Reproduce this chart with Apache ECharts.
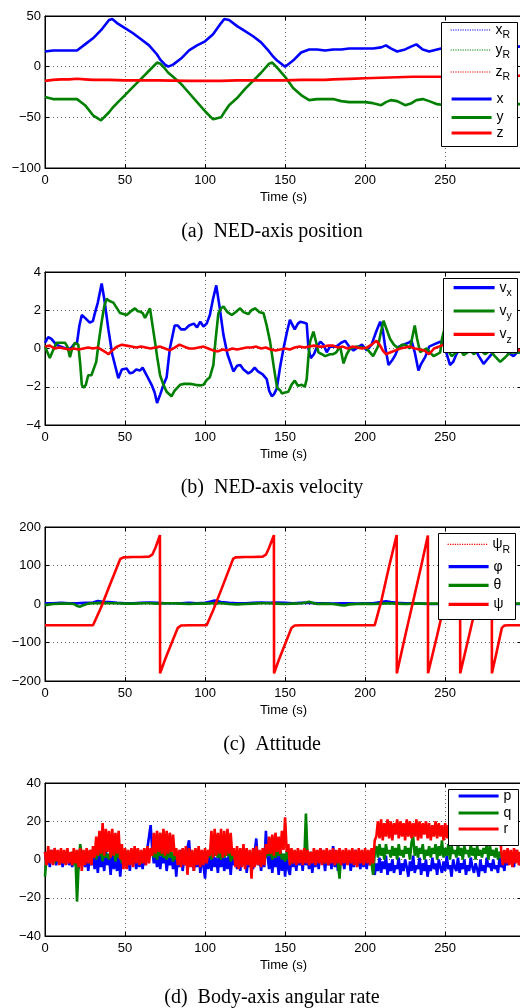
<!DOCTYPE html>
<html><head><meta charset="utf-8">
<script src="https://cdn.jsdelivr.net/npm/echarts@6/dist/echarts.min.js"></script>
<style>html,body{margin:0;padding:0;overflow:hidden;background:#fff}#c{width:530px;height:1008px}</style>
</head><body><div id="c"></div>
<script>
// ---------- (a) NED-axis position: [time s, value m] ----------
const posX = [[0,15],[5,16],[10,16],[15,16],[20,16],[25,22],[30,28],[35,36],[40,46],[42,47],[45,43],[50,38],[55,33],[60,27],[65,21],[70,12],[72,7],[75,2],[77,0],[80,2],[85,8],[90,16],[95,21],[100,25],[105,32],[110,43],[112,47],[115,46],[120,40],[125,35],[130,30],[135,24],[140,15],[142,11],[145,6],[150,0],[155,6],[160,14],[165,17],[170,17],[175,16],[180,17],[185,17],[190,18],[195,18],[200,18],[205,18],[210,19],[213,21],[216,18],[220,15],[225,17],[229,20],[232,22],[236,17],[240,15],[245,17],[250,19],[260,18],[270,19],[280,19],[290,19],[298,20]];
const posY = [[0,-30],[5,-32],[10,-32],[15,-32],[20,-32],[25,-38],[30,-48],[35,-53],[40,-45],[42,-41],[45,-36],[50,-28],[55,-20],[60,-12],[65,-4],[70,4],[72,3],[75,-2],[77,-6],[80,-10],[85,-17],[90,-26],[95,-35],[100,-44],[105,-52],[110,-50],[112,-45],[115,-38],[120,-31],[125,-22],[130,-14],[135,-6],[140,3],[142,4],[145,-1],[150,-10],[155,-21],[160,-28],[165,-33],[170,-32],[175,-32],[180,-32],[185,-34],[190,-35],[195,-35],[200,-35],[205,-36],[210,-38],[213,-35],[216,-33],[220,-34],[225,-38],[229,-36],[232,-33],[236,-32],[240,-34],[245,-37],[250,-38],[260,-37],[270,-37],[280,-37],[290,-37],[298,-37]];
const posZ = [[0,-14],[5,-13],[10,-12.5],[15,-12.5],[20,-12],[25,-12.5],[30,-13],[40,-13],[50,-13.5],[70,-13.5],[90,-14],[110,-14],[120,-13.5],[150,-13.5],[160,-13],[175,-13],[180,-12.5],[190,-12],[200,-11.5],[210,-11],[220,-10.5],[230,-10],[260,-10],[270,-9.5],[290,-9],[298,-9]];
const posXRef = posX, posYRef = posY, posZRef = posZ;

// ---------- (b) NED-axis velocity: [time s, value m/s] ----------
const velX = [[0,0.3],[2,0.6],[4,0.5],[7,0.2],[10,0.1],[13,0],[16,0],[18,0.2],[20,0.3],[21.5,1.2],[23,1.75],[25,1.6],[28,1.35],[30,1.45],[31,1.8],[33,2.4],[35.4,3.4],[37,2.6],[39.6,1.0],[42,-0.3],[45.8,-1.55],[48,-1.1],[51,-1.05],[53,-1.3],[55,-1.25],[57,-1.1],[59.4,-1.15],[61,-1.0],[63.5,-1.4],[66.6,-1.9],[68.5,-2.3],[70,-2.85],[72,-2.4],[74,-1.9],[76,-1.5],[78,0],[81,1.2],[83,1.2],[85,1.0],[87.5,1.0],[90,1.2],[93,1.3],[95,1.1],[97,1.4],[99,1.15],[101,1.3],[103,1.75],[105,2.6],[107,3.3],[109,2.2],[111.5,0.7],[114,-0.3],[117.7,-1.2],[120,-0.9],[122,-0.86],[124,-1.1],[127,-1.3],[129,-1.2],[131,-1.0],[133,-1.2],[136,-1.35],[138.5,-1.6],[140,-2.2],[141.7,-2.5],[143,-2.4],[144.8,-2.1],[147,-0.9],[149,0],[151,0.8],[153,1.5],[156,1.0],[158,1.3],[159.5,1.4],[162,1.35],[163.5,1.3],[164.6,0],[166,-0.5],[168,-0.3],[170,0.1],[172,0.36],[174,0.2],[176,-0.2],[178,0.1],[182,0.1],[185,0.3],[187.5,0.4],[190,0.1],[192.7,-0.1],[196,0.1],[198,0.2],[201,-0.1],[204,0.2],[207,0.9],[209.4,1.4],[211,1.0],[212.5,0.1],[214.6,-0.86],[217,-0.6],[218.8,-0.35],[221,0.1],[224,0.2],[227,0.3],[229,0.4],[231,-0.2],[233.3,-1.15],[235,-0.8],[237.5,-0.45],[240,0.1],[242.7,0.2],[246.9,0.35],[249,0.3],[251,-0.3],[253,-0.86],[255,-0.7],[257,-0.3],[260,0.1],[263,0.2],[265.6,0.1],[268,0.1],[271,-0.4],[274,-0.8],[276,-0.6],[278,-0.4],[281,-0.1],[284,0.1],[286.5,-0.1],[289,-0.2],[292.7,-0.4],[295,-0.2],[298,-0.2]];
const velY = [[0,0.1],[3,-0.5],[5,-0.1],[7.3,0.3],[10,0.3],[12.5,0.3],[14,0.1],[15.6,-0.45],[17,0],[18.7,0.3],[20.8,0.2],[22,-0.8],[23,-1.9],[24,-2.05],[25.5,-1.9],[27,-1.4],[29,-1.4],[30.2,-1.3],[32,-0.7],[33.5,0.3],[35.4,1.4],[37,2.2],[38.5,2.6],[40,2.5],[42.7,2.4],[45,2.1],[46.9,1.85],[49,1.8],[51,1.75],[53,1.9],[56.2,2.1],[58,1.95],[59.4,1.93],[61,1.85],[62.5,1.6],[64,1.85],[65.6,2.1],[67,1.3],[68.7,0.36],[70,-0.4],[71.9,-1.4],[74,-1.9],[76,-2.26],[79,-2.5],[81,-2.2],[84.4,-1.9],[87,-1.85],[90.6,-1.85],[94,-1.9],[96.9,-1.93],[99,-1.9],[101,-1.65],[103,-1.5],[105.2,-0.86],[106.5,0.4],[108.3,1.84],[110,2.1],[111.5,2.2],[114,1.9],[116.7,1.75],[119,1.9],[121.9,2.1],[124,1.9],[127,1.8],[129,2.0],[131.2,2.1],[134,1.9],[136.5,1.85],[138.5,1.2],[140.6,0.36],[143,-1.0],[145,-2.05],[147,-2.2],[148,-2.35],[150,-2.3],[152,-2.26],[154,-1.9],[156,-1.68],[158,-1.95],[159,-2.05],[160.5,-1.9],[162.3,-2.0],[163.5,-1.6],[164.6,-0.4],[165.6,0.36],[167.7,0.88],[169.5,0.3],[170.8,-0.2],[173,-0.3],[175,-0.4],[178,-0.3],[180,-0.3],[182,-0.2],[184.4,0.1],[186.5,-0.78],[188.5,-0.3],[190.6,0],[194.8,0.1],[198,0.05],[201,0],[203,-0.2],[205,-0.4],[208,0.1],[210,0.9],[211.5,1.45],[213,1.1],[215.6,0.5],[218,0.2],[220.8,0],[223,0.2],[225,0.2],[228,0],[229.5,0.6],[231,1.2],[232.5,0.5],[234.4,-0.2],[236,-0.1],[238.5,0],[240.5,-0.2],[242.7,-0.4],[245,-0.3],[246.9,-0.2],[248,0.5],[249.5,1.0],[251,0],[254,-0.4],[257,-0.2],[259,0],[261.5,-0.35],[265.6,-0.1],[268,-0.3],[271,0],[275,-0.3],[278,-0.1],[281,-0.4],[284.4,-0.7],[287,-0.5],[290.6,-0.2],[294.8,-0.2],[298,-0.2]];
const velZ = [[0,0.1],[3,0.15],[6,0],[9,0.05],[12,0],[15,-0.05],[18,0],[21,-0.05],[24,0],[27,0.05],[30,0],[33,0.05],[36,-0.1],[38,-0.2],[39.6,-0.3],[42,-0.1],[45,0.1],[48,0.2],[51,0.15],[54,0.1],[57,0.05],[60,0.1],[63,0.05],[66,0],[69,0.05],[72,0.1],[75,0],[78,-0.1],[81,0.05],[84,0.2],[87,0.1],[90,0],[93,0],[96,0.05],[99,0.1],[102,0],[105,-0.1],[108,-0.15],[111,-0.05],[114,-0.1],[117,0],[120,-0.05],[123,0],[126,0.05],[129,0.05],[132,0.1],[135,0],[138,0.05],[141,-0.05],[144,-0.1],[147,-0.05],[150,0],[153,-0.05],[156,0.05],[159,0.1],[162,0.05],[165,0.1],[168,0.15],[171,0.1],[174,0.1],[177,0.15],[180,0.15],[183,0.05],[186,0.1],[189,0],[192,0.1],[195,0.05],[198,0],[201,0.05],[204,0.2],[207,0.4],[209,0.2],[211,-0.1],[213,-0.3],[216,-0.2],[219,-0.1],[222,0],[225,0.05],[228,0.1],[231,0],[234,-0.05],[237,-0.1],[240,-0.3],[243,0],[246,0.1],[249,0.2],[252,0.1],[256,0],[260,0.05],[264,0],[268,0.05],[272,0],[276,0.05],[280,0],[284,0.05],[288,0],[292,-0.05],[298,-0.1]];

// ---------- (c) Attitude: [time s, value deg] ----------
const attPsi = [[0,-55],[10,-55],[20,-55],[30,-55],[31,-52],[35,-9],[40,44],[45,96],[47,117],[49,121],[55,122],[60,122],[65,123],[67,128],[69,146],[71.8,179],[71.9,-180],[75,-144],[80,-92],[83,-62],[85,-56],[90,-55],[101,-55],[102,-52],[105,-17],[110,36],[115,90],[117.5,117],[119,121],[125,122],[130,122],[136,123],[138,128],[140,146],[143,179],[143.1,-180],[146,-146],[150,-104],[154,-62],[156,-56],[160,-55],[180,-55],[206,-55],[207,-50],[210,6],[215,98],[219.7,179],[219.8,-180],[225,-83],[230,7],[235,98],[239.2,178],[239.3,-180],[245,-81],[250,9],[255,99],[259.3,178],[259.4,-180],[265,-81],[270,9],[275,99],[279.1,178],[279.2,-180],[282,-128],[285.4,-62],[287,-56],[290,-55],[298,-55]];
const attPsiRef = attPsi;
const attPhi = [[0,2],[5,2],[10,3],[15,2],[20,2],[25,3],[30,4],[33,8],[36,6],[40,5],[45,3],[50,2],[55,2],[60,3],[65,4],[70,3],[75,2],[80,2],[85,2],[90,3],[95,2],[100,3],[103,6],[106,9],[110,5],[115,3],[120,2],[125,2],[130,3],[135,4],[140,3],[145,4],[150,3],[155,2],[160,3],[165,3],[170,2],[175,2],[180,1],[185,2],[190,2],[195,1],[200,2],[205,2],[210,5],[213,7],[216,5],[220,3],[225,2],[230,2],[235,1],[240,0],[245,0],[250,-1],[255,-2],[260,-1],[265,0],[270,1],[275,0],[280,0],[285,-1],[290,0],[298,0]];
const attTheta = [[0,-3],[5,0],[10,1],[15,1],[18,0],[20,-5],[22,-7],[24,-3],[27,1],[30,2],[35,3],[40,2],[45,2],[50,1],[55,1],[60,2],[65,2],[70,1],[75,2],[80,2],[85,1],[90,0],[95,1],[100,1],[105,2],[110,2],[115,0],[120,-1],[125,0],[130,1],[135,2],[140,2],[145,1],[150,0],[155,1],[160,2],[163,4],[165,6],[167,3],[170,0],[175,1],[180,0],[185,-3],[187,-4],[190,-1],[195,0],[200,1],[205,0],[210,1],[215,2],[220,1],[225,0],[230,1],[240,1],[250,1],[260,1],[270,1],[280,1],[290,1],[298,1]];

// ---------- (d) Body-axis angular rate (deg/s), one sample per second from t = 0 ----------
const rateStep = 1;
const rateP = [
4,-2,3,-4,5,-1,2,-3,4,-2, 3,-4,1,-2,5,-3,2,-4,3,-1, 2,-5,4,-3,1,-4,3,-6,2,-3,
4,-5,2,-7,3,-4,1,-6,5,-3, 2,-8,4,-5,1,-6,3,-9,2,-4, 5,-3,2,-6,4,-2,1,-5,3,-4,
2,-5,4,-3,6,12,18,5,-2,3, -4,2,-5,3,-2,4,-6,1,-3,2, -5,3,-9,2,-4,5,-6,1,-3,6,
10,-2,3,-6,2,-4,5,-7,1,-3, -10,4,-5,2,-6,3,-4,1,-7,2, -4,3,-6,1,-5,4,-8,2,-3,3,
-5,2,-6,4,-3,5,-7,1,-4,3, -5,4,11,-3,2,-6,3,-4,15,2, -5,3,-7,1,-4,2,-8,4,-6,3,
-9,2,-5,-8,3,-4,2,-6,4,-3, 2,-6,5,-3,1,-5,4,-7,2,-4, 3,-5,6,-2,1,-6,4,-3,2,-5,
7,-4,2,-6,5,-3,1,-5,4,-2, 3,-6,2,-4,5,-3,1,-5,3,-4, 2,-5,4,-3,1,-6,-8,-2,-6,1,
-7,-1,-5,2,-8,-2,-6,0,-7,-3, -5,1,-8,-2,-6,0,-4,-9,-1,-6, 2,-7,-3,-5,1,-8,-2,-6,0,-9,
-3,-6,1,-5,-2,-8,0,-4,-7,-1, -6,2,-5,-3,-9,0,-4,-6,1,-7, -2,-5,0,-8,-3,-6,1,-4,-7,-2,
-5,-9,0,-6,-3,-7,1,-4,-2,-6, 0,-5,-3,-7,1,-4,-2,-6,3,-3, 4,-2,3,-4,5,-1,2,-3];
const rateQ = [
-9,2,-1,3,0,4,-2,2,-1,3, 0,4,-2,3,-1,2,0,4,-3,2, -22,-3,8,2,-1,4,0,3,-2,5,
1,6,0,4,2,5,-1,6,1,3, 0,5,2,6,-1,4,1,5,-2,3, 0,4,-2,3,1,2,-1,4,0,3,
-2,3,1,4,0,5,2,6,1,5, 0,6,2,5,1,4,0,6,1,4, -1,3,0,4,-2,3,1,2,-1,4,
0,3,-2,4,1,3,-1,2,0,4, -1,3,1,5,0,6,2,4,1,5, 0,6,1,4,2,5,-1,3,0,4,
-2,3,0,4,-1,2,1,3,-2,4, 0,3,-1,4,1,2,0,5,1,6, 2,5,0,6,1,4,2,5,0,3,
-1,4,0,3,-2,4,1,3,0,2, -1,3,0,24,2,-1,4,0,3,-2, 2,0,3,-1,4,-2,3,0,2,-1,
3,0,4,-2,-10,3,-1,4,0,2, -1,3,0,2,-2,4,1,3,-1,2, 0,3,-1,4,-2,-8,3,7,1,8,
2,6,0,8,3,5,1,7,2,6, 0,8,2,5,1,7,3,6,0,9, 12,2,7,1,6,3,8,0,5,2,
7,1,6,3,8,0,7,2,10,1, 6,2,8,0,7,3,5,1,8,2, 6,0,7,3,5,1,8,2,6,0,
7,2,5,1,6,3,8,0,7,2, 5,1,6,0,4,2,-1,3,0,4, -1,3,0,2,-1,4,0,2];
const rateR = [
4,-3,7,-2,5,-3,6,-1,5,-3, 6,-2,5,-3,6,-2,4,-3,6,-2, 5,-4,6,-6,5,-3,6,-2,5,-3,
7,1,12,2,15,3,19,2,16,4, 15,1,16,2,14,3,15,0,8,-5, 6,-5,5,-3,6,-4,7,-2,6,-3,
5,-2,6,-3,7,-2,6,2,14,3, 15,4,14,3,16,2,15,3,14,4, 13,2,6,-3,5,-4,6,-3,7,-8,
6,-4,5,-6,6,-3,7,-4,5,-3, 6,-2,5,2,15,1,16,2,14,3, 16,1,15,2,16,3,14,2,6,-4,
7,-5,6,-4,8,-5,6,-3,5,-10, 6,-4,7,-3,5,-4,6,-3,8,3, 12,3,13,2,14,4,12,3,15,5,
22,4,8,-3,6,-2,5,-3,6,-2, 5,-3,6,-2,5,-3,4,-2,6,-3, 5,-2,6,-3,5,-2,6,-3,5,-2,
6,-3,5,-2,6,-3,5,-2,6,-3, 5,-2,6,-3,5,-4,6,-2,5,-3, 6,-2,5,-3,6,-2,10,12,20,11,
21,10,19,12,21,11,20,10,19,13, 21,11,20,12,19,10,21,12,20,11, 19,12,21,10,20,11,19,13,20,11,
19,10,18,12,20,11,19,12,18,10, 19,11,18,12,19,10,18,12,19,11, 18,10,19,12,18,11,19,12,18,10,
19,11,18,12,19,10,18,12,17,11, 18,10,17,11,16,5,-3,5,-2,6, -3,5,-4,6,-2,5,-3,4];

// ---------- axis settings ----------
const timeMax = 298, timeStep = 50;
const yRanges = [[-100, 50, 50], [-4, 4, 2], [-200, 200, 100], [-40, 40, 20]];
const captions = ['(a)  NED-axis position', '(b)  NED-axis velocity', '(c)  Attitude', '(d)  Body-axis angular rate'];

// ---------- layout ----------
const BLUE = '#0000ff', GREEN = '#008000', RED = '#ff0000';
const gridBoxes = [{top:16,height:152},{top:272,height:153},{top:527,height:154},{top:783,height:153}];
const captionY = [232, 488, 745, 998];
const GL = 45, GW = 477;
const SANS = 'Liberation Sans';

function fmt(v){ return v < 0 ? '\u2212' + Math.abs(v) : String(v); }
function series(name, data, i, color, dotted){
  return {name, type:'line', data, xAxisIndex:2*i, yAxisIndex:2*i, symbol:'none', showSymbol:false,
    animation:false, color, lineStyle: dotted ? {color, width:1, type:'dotted'} : {color, width:2.6},
    emphasis:{disabled:true}};
}
function sampled(vals, step){ return vals.map((v,k)=>[k*step, v]); }

const grid = [], xAxis = [], yAxis = [];
gridBoxes.forEach((g,i)=>{
  grid.push({left:GL, width:GW, top:g.top, height:g.height, show:true, borderColor:'#000', borderWidth:1, backgroundColor:'rgba(0,0,0,0)'});
  const tick = {show:true, inside:true, length:4, lineStyle:{color:'#000', width:1}};
  const line = {show:true, onZero:false, lineStyle:{color:'#000', width:1}};
  const split = {show:true, lineStyle:{color:'#666', width:1, type:[1,3]}};
  xAxis.push({type:'value', gridIndex:i, min:0, max:timeMax, interval:timeStep, position:'bottom',
    axisLine:line, axisTick:tick, splitLine:split,
    axisLabel:{color:'#000', fontSize:13, fontFamily:SANS, margin:6, showMaxLabel:false,
      formatter:v => (v % timeStep === 0 ? fmt(v) : '')},
    name:'Time (s)', nameLocation:'middle', nameGap:23,
    nameTextStyle:{color:'#000', fontSize:13, fontFamily:SANS}});
  xAxis.push({type:'value', gridIndex:i, min:0, max:timeMax, interval:timeStep, position:'top',
    axisLine:line, axisTick:tick, splitLine:{show:false}, axisLabel:{show:false}});
  const [mn, mx, iv] = yRanges[i];
  yAxis.push({type:'value', gridIndex:i, min:mn, max:mx, interval:iv, position:'left',
    axisLine:line, axisTick:tick, splitLine:split,
    axisLabel:{color:'#000', fontSize:13, fontFamily:SANS, margin:4, formatter:fmt}});
  yAxis.push({type:'value', gridIndex:i, min:mn, max:mx, interval:iv, position:'right',
    axisLine:line, axisTick:tick, splitLine:{show:false}, axisLabel:{show:false}});
});

const allSeries = [
  series('xR', posXRef, 0, BLUE, true), series('yR', posYRef, 0, GREEN, true), series('zR', posZRef, 0, RED, true),
  series('x', posX, 0, BLUE), series('y', posY, 0, GREEN), series('z', posZ, 0, RED),
  series('vx', velX, 1, BLUE), series('vy', velY, 1, GREEN), series('vz', velZ, 1, RED),
  series('ψR', attPsiRef, 2, RED, true), series('φ', attPhi, 2, BLUE), series('θ', attTheta, 2, GREEN), series('ψ', attPsi, 2, RED),
  series('p', sampled(rateP, rateStep), 3, BLUE), series('q', sampled(rateQ, rateStep), 3, GREEN), series('r', sampled(rateR, rateStep), 3, RED)
];

// legend entries: name, main text, subscript, icon left, item centre y, icon width, dotted?
const legendItems = [
  ['xR','x','R',450,34,40,1],['yR','y','R',450,54,40,1],['zR','z','R',450,76,40,1],
  ['x','x','',450,103,40,0],['y','y','',450,121.5,40,0],['z','z','',450,137,40,0],
  ['vx','v','x',452,291.7,41,0],['vy','v','y',452,315,41,0],['vz','v','z',452,338.3,41,0],
  ['ψR','ψ','R',447,548.3,40,1],['φ','φ','',447,570.7,40,0],['θ','θ','',447,589.3,40,0],['ψ','ψ','',447,608.3,40,0],
  ['p','p','',457,800,40,0],['q','q','',457,817,40,0],['r','r','',457,833,40,0]
];
const rich = {
  m:{fontSize:14, lineHeight:22, verticalAlign:'middle', fontFamily:SANS, color:'#000'},
  s:{fontSize:10.5, lineHeight:11, verticalAlign:'bottom', fontFamily:SANS, color:'#000'}
};
const legend = legendItems.map(([name, main, sub, lx, cy, iw, dot]) => ({
  data:[name], left:lx, top:cy - 11, padding:0, itemGap:0, itemWidth:iw, itemHeight:14,
  selectedMode:false, z:10, orient:'vertical',
  itemStyle:{opacity:0, borderWidth:0},
  lineStyle: dot ? {width:1.2, type:'dotted'} : {width:3.2},
  formatter:() => '{m|' + main + '}' + (sub ? '{s|' + sub + '}' : ''),
  textStyle:{rich}
}));

const legendBoxes = [[441.5,22.5,76,124],[443.5,278.5,74,74],[438.5,533.5,77,86],[448.5,789.5,70,56]];
const graphic = [];
legendBoxes.forEach(([x,y,w,h]) => graphic.push({type:'rect', z:5, silent:true,
  shape:{x, y, width:w, height:h}, style:{fill:'#fff', stroke:'#000', lineWidth:1}}));
captions.forEach((t,i) => graphic.push({type:'text', z:5, silent:true, x:272, y:captionY[i],
  style:{text:t, fill:'#000', font:'20px "Liberation Serif"', align:'center', verticalAlign:'middle',
    textAlign:'center', textVerticalAlign:'middle'}}));

const chart = echarts.init(document.getElementById('c'), null, {renderer:'canvas'});
chart.setOption({animation:false, backgroundColor:'#fff', grid, xAxis, yAxis, legend, series:allSeries, graphic});
</script></body></html>
